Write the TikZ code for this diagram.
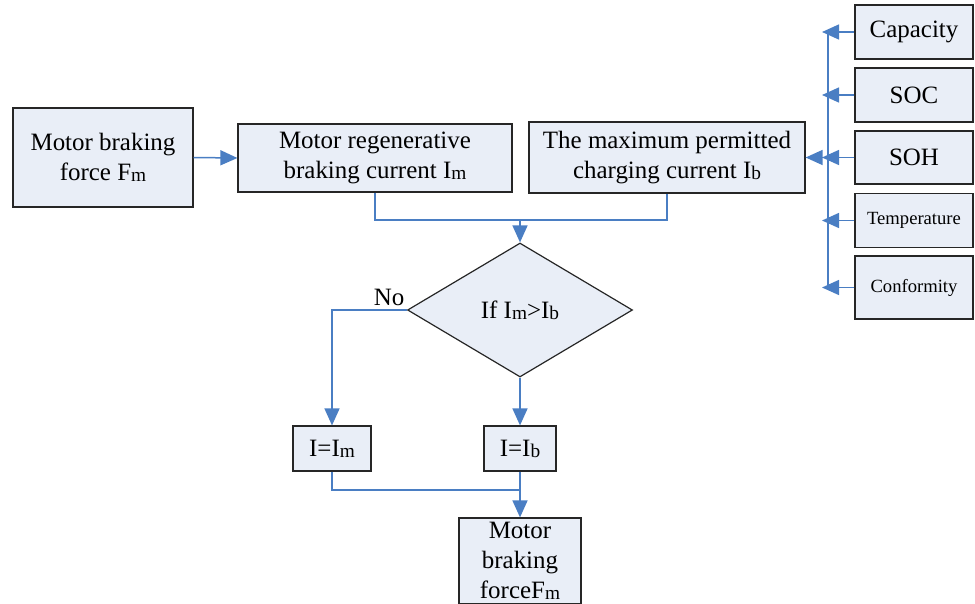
\documentclass[tikz,border=0pt]{standalone}
\usepackage{fontspec}
\setmainfont{Liberation Serif}
\usetikzlibrary{arrows.meta,shapes.geometric}
\newlength{\du}
\setlength{\du}{0.2mm}
\definecolor{boxfill}{rgb}{0.914, 0.933, 0.969}
\definecolor{flowline}{rgb}{0.290, 0.494, 0.765}
\definecolor{boxline}{rgb}{0.150, 0.150, 0.150}
\newcommand{\lowsub}[1]{\raisebox{-0.6pt}{\fontsize{11}{11}\selectfont #1}}
\tikzset{
  blk/.style={draw=boxline, fill=boxfill, line width=0.24mm, inner sep=0pt, align=center,
    font=\fontsize{14.2}{17}\selectfont},
  smallblk/.style={blk, font=\fontsize{10.6}{13}\selectfont},
  line/.style={draw=flowline, line width=0.3mm},
  flow/.style={line, -{Triangle[length=3.4mm, width=3mm]}, flowline}
}

\begin{document}
\begin{tikzpicture}
\pgftransformxscale{1.000000}
\pgftransformyscale{-1.000000}
\useasboundingbox (0\du,0\du) rectangle (975\du,604\du);
% input side
\node[blk, minimum width=180\du, minimum height=99\du] (fm) at (103\du,157.5\du){Motor braking\\force F\lowsub{m}};
\node[blk, minimum width=274\du, minimum height=68\du] (im) at (375\du,158\du){Motor regenerative\\braking current I\lowsub{m}};
\node[blk, minimum width=276\du, minimum height=71\du] (ib) at (667\du,157.5\du){The maximum permitted\\charging current I\lowsub{b}};
% battery states
\node[blk, minimum width=118\du, minimum height=54\du] (cap) at (914\du,32\du){Capacity};
\node[blk, minimum width=118\du, minimum height=54\du] (soc) at (914\du,95\du){SOC};
\node[blk, minimum width=118\du, minimum height=53\du] (soh) at (914\du,157.5\du){SOH};
\node[smallblk, minimum width=118\du, minimum height=54\du] (temp) at (914\du,220.5\du){Temperature};
\node[smallblk, minimum width=118\du, minimum height=63\du] (conf) at (914\du,287.5\du){Conformity};
% decision
\node[blk, shape=diamond, minimum width=225\du, minimum height=134\du] (dec) at (520\du,310\du){If I\lowsub{m}>I\lowsub{b}};
\node[font=\fontsize{14.2}{17}\selectfont, inner sep=0pt] (no) at (389\du,297\du){No};
\node[blk, minimum width=78\du, minimum height=45\du] (eqm) at (332\du,448.5\du){I=I\lowsub{m}};
\node[blk, minimum width=72\du, minimum height=45\du] (eqb) at (520\du,448.5\du){I=I\lowsub{b}};
\node[blk, minimum width=122\du, minimum height=86\du] (out) at (520\du,561\du){Motor\\braking\\forceF\lowsub{m}};
% junctions
\coordinate (mrg) at (520\du,220\du);
\coordinate (mrgb) at (520\du,490\du);
\coordinate (bus) at (828\du,157.5\du);
\coordinate (bustop) at (828\du,32\du);
\coordinate (busbot) at (828\du,287.5\du);
\coordinate (tipx) at (822\du,0\du);
% connectors
\draw[flow] (fm.east) -- (im.west);
\draw[line] (im.south) |- (mrg) -| (ib.south);
\draw[flow] (mrg) -- (dec.north);
\draw[line] (bustop) -- (busbot);
\foreach \src in {cap,soc,soh,temp,conf}
  \draw[flow] (\src.west) -- (\src.west -| tipx);
\draw[flow] (bus) -- (ib.east);
\draw[flow] (dec.west) -| (eqm.north);
\draw[flow] (dec.south) -- (eqb.north);
\draw[line] (eqm.south) |- (mrgb);
\draw[flow] (eqb.south) -- (out.north);
\end{tikzpicture}
\end{document}
